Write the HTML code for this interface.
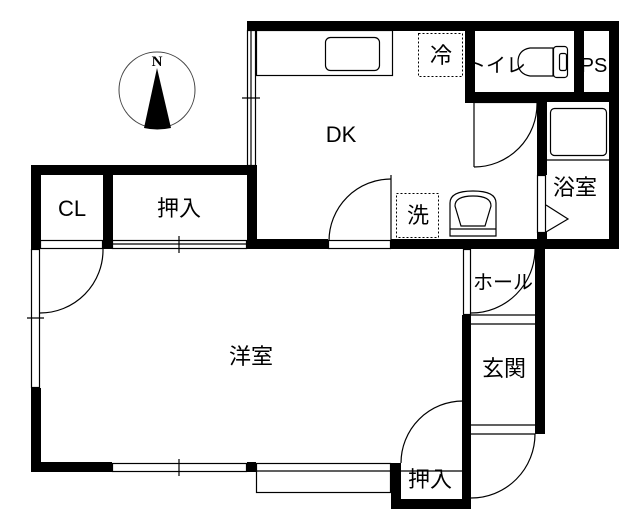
<!DOCTYPE html>
<html><head><meta charset="utf-8"><style>
html,body{margin:0;padding:0;background:#fff;width:640px;height:517px;overflow:hidden}
svg{display:block}
text{font-family:"Liberation Sans","Noto Sans CJK JP",sans-serif;fill:#000}
</style></head><body>
<svg width="640" height="517" viewBox="0 0 640 517" xmlns="http://www.w3.org/2000/svg">
<g fill="none" stroke="#000" stroke-width="1">
<circle cx="157" cy="90" r="38" stroke="#444"/>
</g>
<path d="M157 68 L144 128 Q157 131 171 128 Z" fill="#000"/>
<text x="157" y="66" font-weight="bold" font-size="15" text-anchor="middle" style="font-family:'Liberation Serif',serif">N</text>

<g fill="#000">
<rect x="247" y="21" width="372" height="10"/>
<rect x="465" y="21" width="10" height="82"/>
<rect x="465" y="92" width="154" height="10"/>
<rect x="574" y="21" width="10" height="80"/>
<rect x="609" y="21" width="10" height="228"/>
<rect x="537" y="92" width="10" height="83"/>
<rect x="537" y="232" width="10" height="17"/>
<rect x="537" y="239" width="82" height="10"/>
<rect x="247" y="165" width="10" height="84"/>
<rect x="31" y="165" width="225" height="10"/>
<rect x="31" y="165" width="10" height="84"/>
<rect x="31" y="388" width="10" height="84"/>
<rect x="103" y="165" width="10" height="84"/>
<rect x="247" y="239" width="81" height="10"/>
<rect x="391" y="239" width="146" height="10"/>
<rect x="535" y="240" width="10" height="194"/>
<rect x="31" y="462" width="81" height="10"/>
<rect x="247" y="462" width="9" height="10"/>
<rect x="391" y="463" width="10" height="46"/>
<rect x="391" y="499" width="80" height="10"/>
<rect x="462" y="315" width="9" height="194"/>
</g>

<g fill="none" stroke="#000" stroke-width="1.2">
<rect x="247.5" y="30.5" width="8" height="135"/>
<line x1="251" y1="30" x2="251" y2="165"/>
<line x1="242" y1="98" x2="260" y2="98"/>
<rect x="256.5" y="30.5" width="136" height="45"/>
<rect x="325.5" y="37.5" width="54" height="33" rx="5"/>
<line x1="474" y1="103" x2="474" y2="167"/>
<path d="M474 167 A63 63 0 0 0 537 103"/>
<rect x="474.5" y="100.5" width="62" height="2"/>
<path d="M553 48 L530 48 Q518 50 518 62 Q518 74 530 76 L553 76 Z"/>
<rect x="553.5" y="46.5" width="14" height="31" rx="3"/>
<rect x="559.5" y="53.5" width="7" height="17" rx="2"/>
<rect x="550.5" y="108.5" width="56" height="47" rx="4"/>
<line x1="546" y1="160" x2="610" y2="160"/>
<rect x="537.5" y="175.5" width="8" height="57"/>
<path d="M546 205 L568 219 L546 232"/>
<line x1="391" y1="175" x2="391" y2="241"/>
<path d="M329 241 A62 62 0 0 1 391 179"/>
<rect x="328.5" y="240.5" width="62" height="8"/>
<path d="M450 236 L450 203 Q450 191 473 191 Q496 191 496 203 L496 236 Z"/>
<path d="M455 206 Q455 196 473 196 Q491 196 491 206 L485 226 L461 226 Z"/>
<line x1="450" y1="229" x2="496" y2="229"/>
<rect x="112.5" y="240.5" width="134" height="8"/>
<line x1="112" y1="244" x2="247" y2="244"/>
<line x1="179" y1="236" x2="179" y2="253"/>
<rect x="40.5" y="240.5" width="62" height="8"/>
<path d="M40 313 A63 63 0 0 0 103 249"/>
<rect x="31.5" y="249.5" width="8" height="138"/>
<line x1="27" y1="318" x2="44" y2="318"/>
<rect x="112.5" y="463.5" width="134" height="8"/>
<line x1="179" y1="459" x2="179" y2="476"/>
<rect x="256.5" y="463.5" width="134" height="29"/>
<line x1="256" y1="471" x2="391" y2="471"/>
<path d="M401 463 A62 62 0 0 1 463 401"/>
<line x1="400" y1="471" x2="463" y2="471"/>
<rect x="463.5" y="249.5" width="7" height="65"/>
<path d="M471 313 A64 64 0 0 0 535 249"/>
<line x1="471" y1="315" x2="535" y2="315"/>
<line x1="471" y1="324" x2="535" y2="324"/>
<line x1="471" y1="425" x2="535" y2="425"/>
<line x1="471" y1="434" x2="535" y2="434"/>
<path d="M471 498 A64 64 0 0 0 535 434"/>
</g>
<g fill="none" stroke="#000" stroke-width="1" stroke-dasharray="2,2">
<rect x="418.5" y="33.5" width="44" height="43"/>
<rect x="396.5" y="193.5" width="42" height="44"/>
</g>

<g font-size="22" text-anchor="middle">
<text x="441" y="63">冷</text>
<text x="496" y="72" font-size="20">トイレ</text>
<text x="594" y="72" font-size="20">PS</text>
<text x="341" y="142">DK</text>
<text x="575" y="195">浴室</text>
<text x="418" y="223">洗</text>
<text x="72" y="216">CL</text>
<text x="179" y="216">押入</text>
<text x="251" y="364">洋室</text>
<text x="503" y="289" font-size="20">ホール</text>
<text x="504" y="376">玄関</text>
<text x="430" y="487">押入</text>
</g>
</svg>
</body></html>
